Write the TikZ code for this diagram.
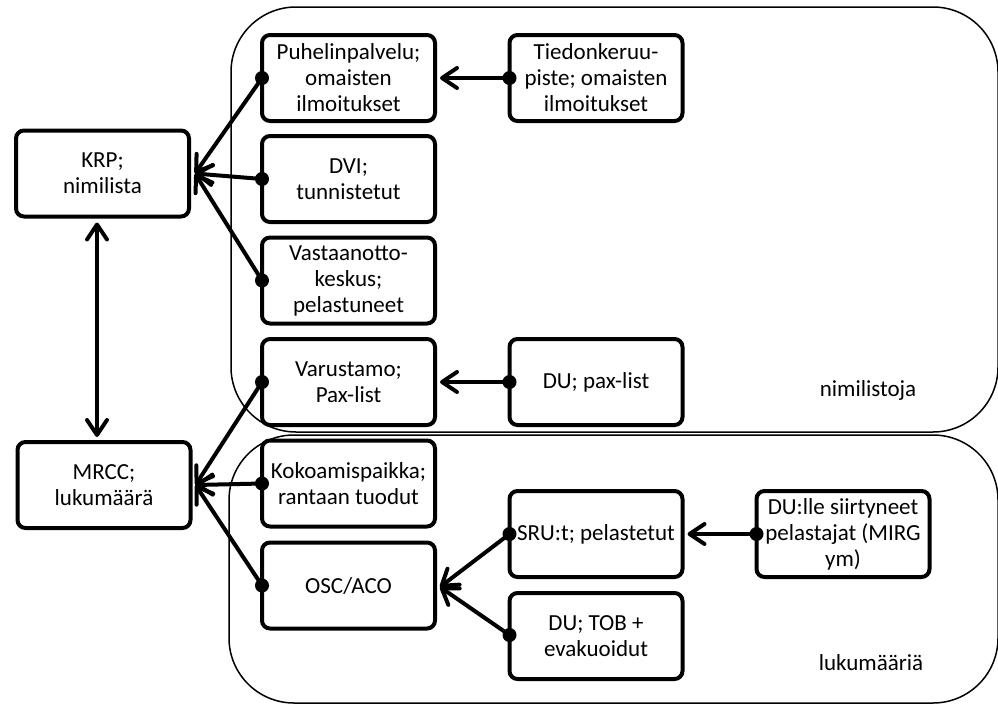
\documentclass[tikz,border=0pt]{standalone}
\usepackage{fontspec}
\setmainfont{Carlito}
\usetikzlibrary{arrows.meta,calc}
\begin{document}
\begin{tikzpicture}[x=1pt,y=-1pt,
  box/.style={draw,line width=4pt,rounded corners=8pt,minimum width=173pt,minimum height=86pt,
    inner sep=0pt,outer sep=0pt,align=center,font=\fontsize{23}{26}\selectfont},
  tipA/.tip={Straight Barb[length=15pt,width=20pt,line cap=round,line join=round]},
  conn/.style={line width=4pt,line cap=round,-tipA},
  dualconn/.style={line width=4pt,tipA-tipA},
  group/.style={draw,line width=1.5pt,rounded corners=65pt},
  lbl/.style={font=\fontsize{23}{26}\selectfont}]
\useasboundingbox (0,0) rectangle (998,704);
% containers
\draw[group] (231,7) rectangle (998,432);
\draw[group] (229,435) rectangle (998,703);
% nodes
\node[box] (krp) at (102.5,173.5) {KRP;\\nimilista};
\node[box] (mrcc) at (104,485) {MRCC;\\lukumäärä};
\node[box] (puh) at (348.5,78) {Puhelinpalvelu;\\omaisten\\ilmoitukset};
\node[box] (dvi) at (348.5,179) {DVI;\\tunnistetut};
\node[box] (vas) at (348.5,280.5) {Vastaanotto-\\keskus;\\pelastuneet};
\node[box] (var) at (348.5,382) {Varustamo;\\Pax-list};
\node[box] (kok) at (348.5,483.5) {Kokoamispaikka;\\rantaan tuodut};
\node[box] (osc) at (348.5,585.5) {OSC/ACO};
\node[box] (tied) at (596,78) {Tiedonkeruu-\\piste; omaisten\\ilmoitukset};
\node[box] (dupax) at (596,382) {DU; pax-list};
\node[box] (sru) at (596,534) {SRU:t; pelastetut};
\node[box] (dutob) at (596,636) {DU; TOB +\\evakuoidut};
\node[box] (dulle) at (843,534) {DU:lle siirtyneet\\pelastajat (MIRG\\ym)};
% labels
\node[lbl] (n1) at (868,390) {nimilistoja};
\node[lbl] (n2) at (871,663) {lukumääriä};
% connectors
\coordinate (krpin) at ($(krp.east)+(6,0)$);
\coordinate (mrccin) at ($(mrcc.east)+(5,0)$);
\draw[conn] (tied.west) -- ($(puh.east)+(5,0)$);
\draw[conn] (puh.west) -- (krpin);
\draw[conn] (dvi.west) -- (krpin);
\draw[conn] (vas.west) -- (krpin);
\draw[conn] (var.west) -- (mrccin);
\draw[conn] (kok.west) -- (mrccin);
\draw[conn] (osc.west) -- (mrccin);
\draw[conn] (dupax.west) -- ($(var.east)+(5,0)$);
\coordinate (oscin) at ($(osc.east)+(5,1.5)$);
\draw[conn] (sru.west) -- (oscin);
\draw[conn] ($(dutob.west)+(0,-1)$) -- (oscin);
\draw[conn] (dulle.west) -- ($(sru.east)+(5,0)$);
\draw[dualconn] ($(krp.south)+(-5.5,6)$) -- ($(krp.south |- mrcc.north)+(-5.5,-5)$);
% dots
\foreach \n in {tied,puh,dvi,vas,var,kok,osc,dupax,sru,dulle}
  \fill (\n.west) circle (7pt);
\fill ($(dutob.west)+(0,-1)$) circle (7pt);
\end{tikzpicture}
\end{document}
